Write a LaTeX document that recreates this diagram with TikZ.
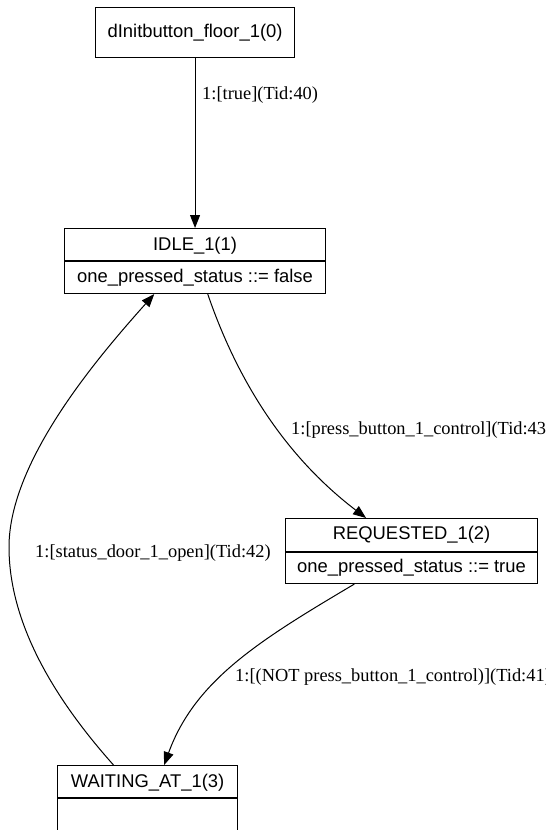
\documentclass[tikz,border=0pt]{standalone}
\usepackage{fontspec}
\newfontfamily\statefont{Liberation Sans}
\newfontfamily\edgefont{Liberation Serif}
\usetikzlibrary{arrows.meta,calc}
\begin{document}
\begin{tikzpicture}[x=1pt,y=-1pt,
  statebox/.style={draw, line width=1.1pt, inner sep=0pt, anchor=north west},
  divider/.style={line width=1.1pt},
  statetext/.style={inner sep=0pt, font=\statefont\fontsize{18.4}{21}\selectfont},
  edgelabel/.style={inner sep=0pt, anchor=west, font=\edgefont\fontsize{18.4}{21}\selectfont},
  edge/.style={line width=1pt, -{Triangle[length=13pt,width=10pt]}}
]
\useasboundingbox (0,0) rectangle (546,830);

% initial state
\node[statebox, minimum width=199pt, minimum height=50pt] (init) at (95,7) {};
\node[statetext] (initname) at (init.center) {dInitbutton\_floor\_1(0)};

% IDLE state
\node[statebox, minimum width=261pt, minimum height=65pt] (idle) at (64,228) {};
\draw[divider] ($(idle.north west)+(0,33)$) -- ($(idle.north east)+(0,33)$);
\node[statetext] (idlename) at ($(idle.north)+(0,18)$) {IDLE\_1(1)};
\node[statetext] (idleact) at ($(idle.north)+(0,50)$) {one\_pressed\_status ::= false};

% REQUESTED state
\node[statebox, minimum width=252pt, minimum height=65pt] (req) at (285,518) {};
\draw[divider] ($(req.north west)+(0,34)$) -- ($(req.north east)+(0,34)$);
\node[statetext] (reqname) at ($(req.north)+(0,17)$) {REQUESTED\_1(2)};
\node[statetext] (reqact) at ($(req.north)+(0,50)$) {one\_pressed\_status ::= true};

% WAITING state (continues below the page edge)
\node[statebox, minimum width=180pt, minimum height=67pt] (wait) at (57,765) {};
\draw[divider] ($(wait.north west)+(0,33)$) -- ($(wait.north east)+(0,33)$);
\node[statetext] (waitname) at ($(wait.north)+(0,18)$) {WAITING\_AT\_1(3)};

% transitions
\draw[edge] (init.south) -- (idle.north);
\node[edgelabel] (l40) at (202,95) {1:[true](Tid:40)};

\draw[edge] (idle.-69) .. controls (240,388) and (290,460) .. (req.144.75);
\node[edgelabel] (l43) at (291,430) {1:[press\_button\_1\_control](Tid:43)};

\draw[edge] (req.210.1) .. controls (260,640) and (195,680) .. (wait.64.5);
\node[edgelabel] (l41) at (235,677) {1:[(NOT press\_button\_1\_control)](Tid:41)};

\draw[edge] (wait.135.4) .. controls (60,705) and (9,628) .. (9,547)
  .. controls (9,460) and (100,355) .. (idle.219.4);
\node[edgelabel] (l42) at (35,553) {1:[status\_door\_1\_open](Tid:42)};
\end{tikzpicture}
\end{document}
